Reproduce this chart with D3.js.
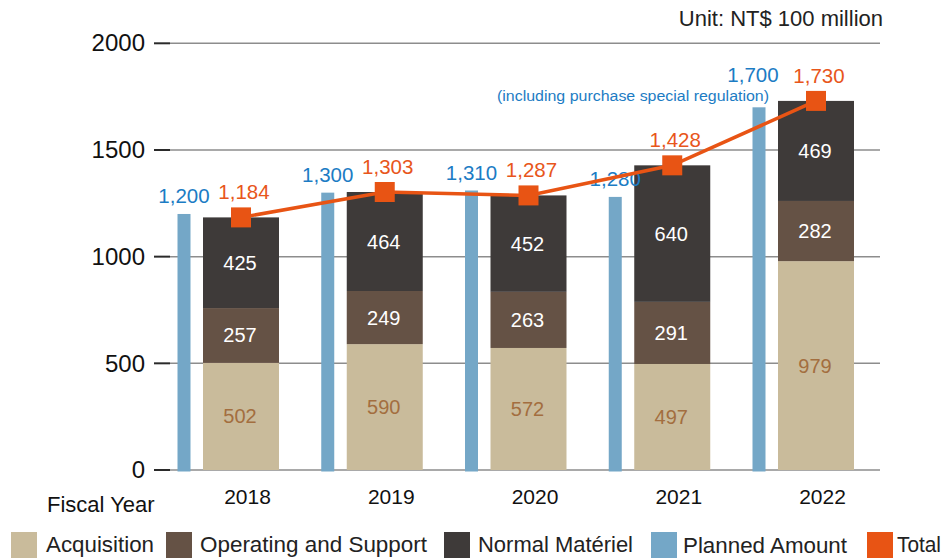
<!DOCTYPE html>
<html>
<head>
<meta charset="utf-8">
<script src="https://cdn.jsdelivr.net/npm/d3@7"></script>
<style>
  html, body { margin: 0; padding: 0; background: #ffffff; }
  svg { display: block; font-family: "Liberation Sans", Arial, sans-serif; }
</style>
</head>
<body>
<svg id="chart" width="944" height="558"></svg>
<script>
// Defense budget by fiscal year (NT$ 100 million)
const years = ["2018", "2019", "2020", "2021", "2022"];
const acquisition = [502, 590, 572, 497, 979];
const operatingSupport = [257, 249, 263, 291, 282];
const normalMateriel = [425, 464, 452, 640, 469];
const plannedAmount = [1200, 1300, 1310, 1280, 1700];
const totalAmount = [1184, 1303, 1287, 1428, 1730];
const yTicks = [0, 500, 1000, 1500, 2000];
const legendLabels = ["Acquisition", "Operating and Support", "Normal Matériel", "Planned Amount", "Total"];
const plannedNote = "(including purchase special regulation)";
const unitLabel = "Unit: NT$ 100 million";
const axisTitle = "Fiscal Year";

const colors = {
  acq: "#C9BB9B",
  ops: "#655245",
  normal: "#3E3A39",
  planned: "#74A7C7",
  total: "#E85414",
  plannedText: "#1C7CC4",
  totalText: "#E8561B",
  acqText: "#A36E3F",
  grid: "#8d8d8d",
  tick: "#2a2a2a"
};

const svg = d3.select("#chart");

const y = d3.scaleLinear().domain([0, 2000]).range([470, 43.3]);
const x = d3.scalePoint().domain(years).range([241, 816]);

const stackW = 76, plannedW = 13, plannedOffset = -57;
const gridX0 = 170, gridX1 = 880;

// gridlines and tick stubs
const gridG = svg.append("g");
gridG.selectAll("line.grid").data(yTicks).join("line")
  .attr("x1", gridX0).attr("x2", gridX1)
  .attr("y1", d => y(d)).attr("y2", d => y(d))
  .attr("stroke", colors.grid).attr("stroke-width", 1.5);
gridG.selectAll("line.tick").data(yTicks).join("line")
  .attr("x1", 154).attr("x2", 170)
  .attr("y1", d => y(d)).attr("y2", d => y(d))
  .attr("stroke", colors.tick).attr("stroke-width", 2);

// y axis labels via d3 axis
const yAxis = svg.append("g")
  .attr("transform", "translate(154,0)")
  .call(d3.axisLeft(y).tickValues(yTicks).tickSize(0).tickPadding(9).tickFormat(d3.format("d")));
yAxis.select(".domain").remove();
yAxis.selectAll("text")
  .attr("font-size", 24).attr("fill", "#111")
  .attr("font-family", "Liberation Sans, Arial, sans-serif");

// x axis labels
const xAxis = svg.append("g")
  .attr("transform", "translate(6,481)")
  .call(d3.axisBottom(x).tickSize(0).tickPadding(8));
xAxis.select(".domain").remove();
xAxis.selectAll("text")
  .attr("font-size", 21).attr("fill", "#111")
  .attr("font-family", "Liberation Sans, Arial, sans-serif");

svg.append("text")
  .attr("x", 47).attr("y", 512)
  .attr("font-size", 22).attr("fill", "#111")
  .text(axisTitle);

svg.append("text")
  .attr("x", 883).attr("y", 26)
  .attr("text-anchor", "end")
  .attr("font-size", 22).attr("fill", "#222")
  .text(unitLabel);

// stacked bars
const rows = years.map((yr, i) => ({
  year: yr, acq: acquisition[i], ops: operatingSupport[i], normal: normalMateriel[i]
}));
const keys = ["acq", "ops", "normal"];
const stack = d3.stack().keys(keys)(rows);
const textColor = { acq: colors.acqText, ops: "#ffffff", normal: "#ffffff" };

stack.forEach(layer => {
  const key = layer.key;
  const g = svg.append("g");
  g.selectAll("rect").data(layer).join("rect")
    .attr("x", d => x(d.data.year) - stackW / 2)
    .attr("width", stackW)
    .attr("y", d => y(d[1]))
    .attr("height", d => y(d[0]) - y(d[1]))
    .attr("fill", colors[key]);
  g.selectAll("text").data(layer).join("text")
    .attr("x", d => x(d.data.year) - 1)
    .attr("y", d => (y(d[0]) + y(d[1])) / 2 + 7)
    .attr("text-anchor", "middle")
    .attr("font-size", 20)
    .attr("fill", textColor[key])
    .text(d => d.data[key]);
});

// planned amount bars
const plannedG = svg.append("g");
plannedG.selectAll("rect").data(plannedAmount).join("rect")
  .attr("x", (d, i) => x(years[i]) + plannedOffset - plannedW / 2)
  .attr("width", plannedW)
  .attr("y", d => y(d))
  .attr("height", d => y(0) - y(d) + 1.5)
  .attr("fill", colors.planned);

const fmt = d3.format(",");
const lastIdx = plannedAmount.length - 1;
plannedG.selectAll("text").data(plannedAmount).join("text")
  .attr("x", (d, i) => x(years[i]) + plannedOffset + (i === lastIdx ? -6 : 0))
  .attr("y", (d, i) => y(d) - (i === lastIdx ? 25 : 11))
  .attr("text-anchor", "middle")
  .attr("font-size", 20.5)
  .attr("fill", colors.plannedText)
  .text(d => fmt(d));

svg.append("text")
  .attr("x", x(years[lastIdx]) + plannedOffset + 10)
  .attr("y", y(plannedAmount[lastIdx]) - 6)
  .attr("text-anchor", "end")
  .attr("font-size", 15.5)
  .attr("textLength", 272)
  .attr("lengthAdjust", "spacingAndGlyphs")
  .attr("fill", colors.plannedText)
  .text(plannedNote);

// total line with square markers
const line = d3.line().x((d, i) => x(years[i])).y(d => y(d));
svg.append("path")
  .datum(totalAmount)
  .attr("d", line)
  .attr("fill", "none")
  .attr("stroke", colors.total)
  .attr("stroke-width", 3.5);

const mk = 20;
svg.append("g").selectAll("rect").data(totalAmount).join("rect")
  .attr("x", (d, i) => x(years[i]) - mk / 2)
  .attr("y", d => y(d) - mk / 2)
  .attr("width", mk).attr("height", mk)
  .attr("fill", colors.total);

svg.append("g").selectAll("text").data(totalAmount).join("text")
  .attr("x", (d, i) => x(years[i]) + 3)
  .attr("y", d => y(d) - 18)
  .attr("text-anchor", "middle")
  .attr("font-size", 20.5)
  .attr("fill", colors.totalText)
  .text(d => fmt(d));

// legend
const legendColors = [colors.acq, colors.ops, colors.normal, colors.planned, colors.total];
const legendX = [11, 166, 444, 651, 867];
const legendTextX = [35, 34, 34, 32, 30];
const legendTextW = [108, 227, 155, 164, 44];
const legend = svg.append("g").selectAll("g").data(legendLabels).join("g")
  .attr("transform", (d, i) => `translate(${legendX[i]},532)`);
legend.append("rect")
  .attr("width", 26).attr("height", 26)
  .attr("fill", (d, i) => legendColors[i]);
legend.append("text")
  .attr("x", (d, i) => legendTextX[i])
  .attr("y", (d, i) => i === 3 ? 21 : 20)
  .attr("font-size", 22)
  .attr("textLength", (d, i) => legendTextW[i])
  .attr("lengthAdjust", "spacingAndGlyphs")
  .attr("fill", "#222")
  .text(d => d);
</script>
</body>
</html>
